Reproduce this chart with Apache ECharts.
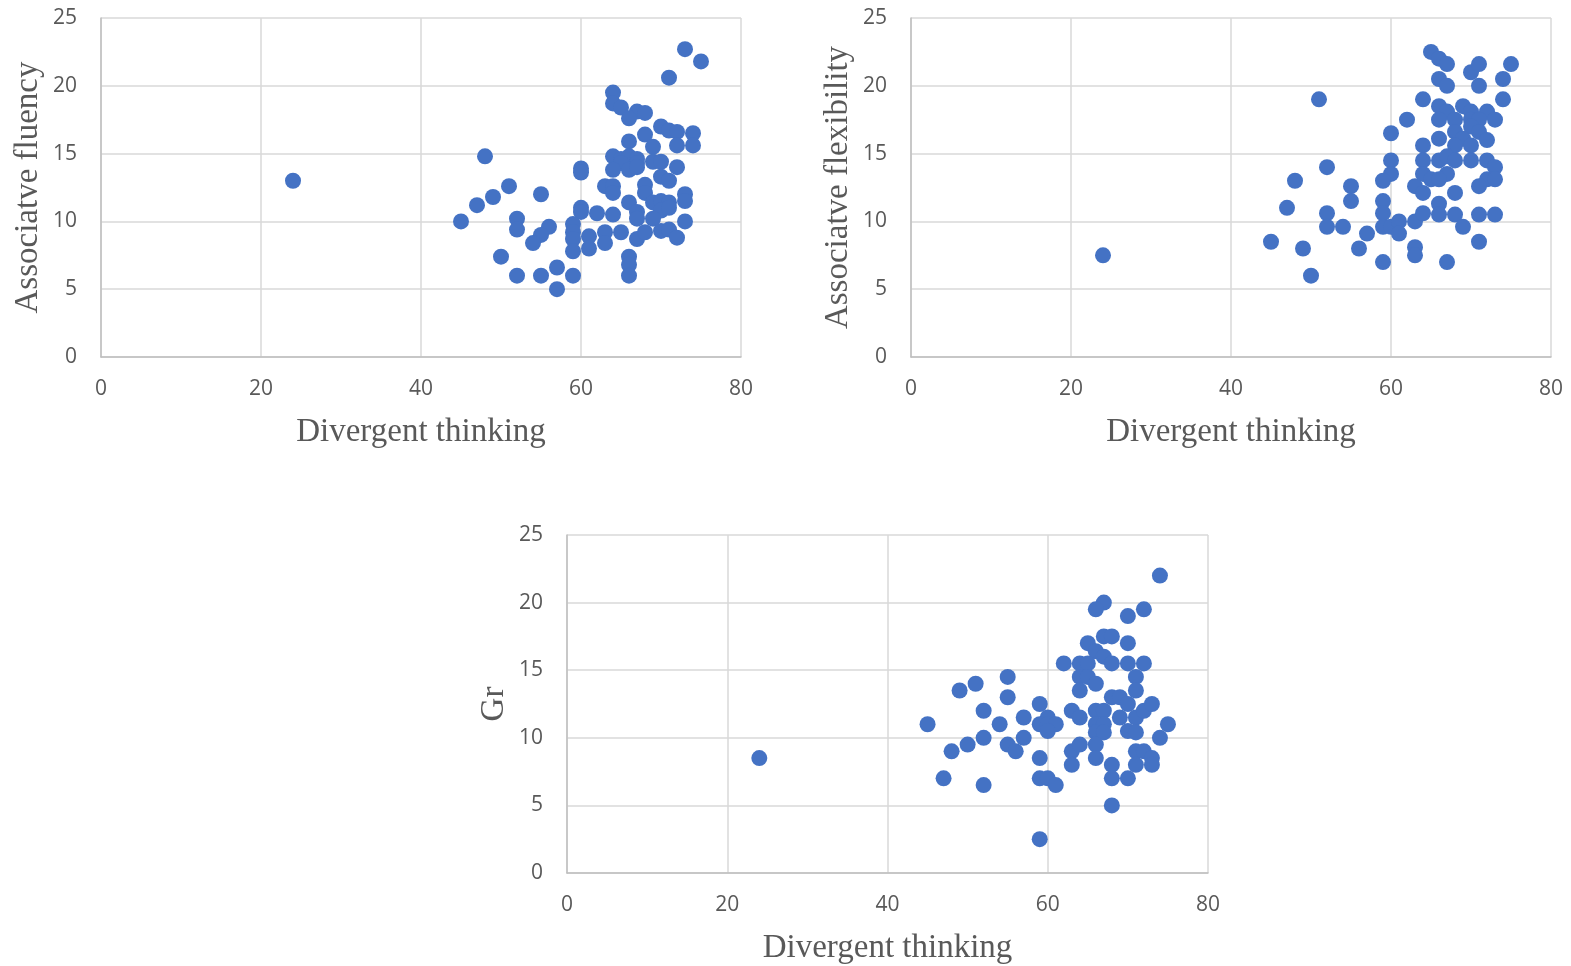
<!DOCTYPE html>
<html>
<head>
<meta charset="utf-8">
<script src="https://cdn.jsdelivr.net/npm/echarts@6/dist/echarts.min.js"></script>
<style>
  html, body { margin: 0; padding: 0; background: #fff; }
  #chart { width: 1571px; height: 966px; }
</style>
</head>
<body>
<div id="chart"></div>
<script>
// Divergent thinking score vs. each associative measure: [x, y]
const fluencyPoints = [
  [24,13],
  [73,22.7],[75,21.8],[71,20.6],[64,19.5],[64,18.7],[65,18.4],[67,18.1],[68,18.0],[66,17.6],
  [70,17.0],[71,16.7],[72,16.6],[74,16.5],[68,16.4],[72,15.6],[74,15.6],[66,15.9],[69,15.5],
  [64,14.8],[65,14.6],[66,14.8],[67,14.6],[69,14.4],[70,14.4],[65,14.3],[67,14.3],[64,13.8],
  [66,13.8],[67,14.0],[60,13.9],[60,13.6],[72,14.0],[70,13.3],[71,13.0],[63,12.6],[64,12.6],
  [64,12.1],[68,12.7],[68,12.1],[73,12.0],[73,11.5],[66,11.4],[69,11.4],[70,11.5],[71,11.4],
  [67,10.7],[70,10.8],[71,11.0],[60,11.0],[60,10.7],[62,10.6],[64,10.5],[67,10.2],[69,10.2],
  [73,10.0],[55,12.0],[51,12.6],[49,11.8],[47,11.2],[45,10.0],[48,14.8],[52,10.2],[52,9.4],
  [56,9.6],[55,9.0],[54,8.4],[59,9.8],[59,9.2],[59,8.7],[59,7.8],[61,8.9],[61,8.0],[63,9.2],
  [63,8.4],[65,9.2],[67,8.7],[68,9.2],[70,9.3],[71,9.4],[72,8.8],[50,7.4],[52,6.0],[55,6.0],
  [57,6.6],[57,5.0],[59,6.0],[66,7.4],[66,6.8],[66,6.0]
];

const flexibilityPoints = [
  [24,7.5],
  [65,22.5],[66,22.0],[67,21.6],[70,21.0],[71,21.6],[75,21.6],[74,20.5],[66,20.5],[67,20.0],
  [71,20.0],[74,19.0],[64,19.0],[51,19.0],[66,18.5],[69,18.5],[67,18.1],[70,18.1],[72,18.1],
  [66,17.5],[68,17.5],[70,17.5],[71,17.5],[73,17.5],[62,17.5],[68,16.6],[70,17.0],[71,16.6],
  [72,16.0],[66,16.1],[60,16.5],[69,16.1],[70,15.6],[68,15.6],[64,15.6],[64,14.5],[66,14.5],
  [67,14.8],[68,14.5],[70,14.5],[72,14.5],[73,14.0],[60,14.5],[60,13.5],[59,13.0],[64,13.5],
  [67,13.5],[65,13.1],[66,13.1],[63,12.6],[64,12.1],[72,13.1],[73,13.1],[71,12.6],[68,12.1],
  [52,14.0],[48,13.0],[55,12.6],[55,11.5],[59,11.5],[47,11.0],[52,10.6],[52,9.6],[54,9.6],
  [59,10.6],[59,9.6],[60,9.6],[61,10.0],[61,9.1],[63,10.0],[64,10.6],[66,11.3],[66,10.5],
  [68,10.5],[71,10.5],[73,10.5],[69,9.6],[57,9.1],[56,8.0],[49,8.0],[45,8.5],[63,8.1],
  [63,7.5],[59,7.0],[67,7.0],[71,8.5],[50,6.0]
];

const grPoints = [
  [24,8.5],
  [74,22.0],[67,20.0],[66,19.5],[72,19.5],[70,19.0],[67,17.5],[68,17.5],[65,17.0],[70,17.0],
  [66,16.4],[67,16.0],[68,15.5],[62,15.5],[64,15.5],[65,15.5],[70,15.5],[72,15.5],[64,14.5],
  [65,14.5],[66,14.0],[64,13.5],[71,14.5],[71,13.5],[68,13.0],[69,13.0],[70,12.5],[66,12.0],
  [67,12.0],[63,12.0],[64,11.5],[69,11.5],[71,11.5],[72,12.0],[73,12.5],[75,11.0],[66,11.0],
  [67,11.0],[66,10.4],[67,10.4],[70,10.5],[71,10.4],[60,11.5],[59,11.0],[60,11.0],[61,11.0],
  [60,10.5],[59,12.5],[57,11.5],[57,10.0],[55,14.5],[55,13.0],[51,14.0],[49,13.5],[52,12.0],
  [54,11.0],[45,11.0],[52,10.0],[50,9.5],[48,9.0],[55,9.5],[56,9.0],[59,8.5],[63,9.0],
  [64,9.5],[63,8.0],[66,9.5],[66,8.5],[68,8.0],[71,9.0],[72,9.0],[73,8.5],[73,8.0],[71,8.0],
  [74,10.0],[47,7.0],[52,6.5],[59,7.0],[60,7.0],[61,6.5],[68,7.0],[70,7.0],[68,5.0],[59,2.5]
];

// Axis scales and titles
const xTicks = { min: 0, max: 80, interval: 20 };
const yTicks = { min: 0, max: 25, interval: 5 };
const xTitle = 'Divergent thinking';
const yTitles = ['Associatve fluency', 'Associatve flexibility', 'Gr'];

const panels = [
  { data: fluencyPoints,     grid: { left: 101, top: 18,  width: 640, height: 339 } },
  { data: flexibilityPoints, grid: { left: 911, top: 18,  width: 640, height: 339 } },
  { data: grPoints,          grid: { left: 567, top: 535, width: 641, height: 338 } }
];

const tickColor = '#595959';
const tickFont = { color: tickColor, fontSize: 21, fontFamily: 'Open Sans' };
const titleFont = { color: tickColor, fontSize: 33, fontFamily: 'Liberation Serif' };

const option = {
  animation: false,
  grid: panels.map(p => Object.assign({ containLabel: false }, p.grid)),
  xAxis: panels.map((p, i) => ({
    type: 'value', gridIndex: i,
    min: xTicks.min, max: xTicks.max, interval: xTicks.interval,
    name: xTitle, nameLocation: 'middle', nameGap: 59,
    nameTextStyle: titleFont,
    axisLine: { show: true, lineStyle: { color: '#bfbfbf', width: 1.5 } },
    axisTick: { show: false },
    axisLabel: Object.assign({ margin: 22 }, tickFont),
    splitLine: { show: true, lineStyle: { color: '#d9d9d9', width: 1.5 } }
  })),
  yAxis: panels.map((p, i) => ({
    type: 'value', gridIndex: i,
    min: yTicks.min, max: yTicks.max, interval: yTicks.interval,
    name: yTitles[i], nameLocation: 'middle', nameGap: 56,
    nameTextStyle: titleFont,
    axisLine: { show: true, lineStyle: { color: '#bfbfbf', width: 1.5 } },
    axisTick: { show: false },
    axisLabel: Object.assign({ margin: 24 }, tickFont),
    splitLine: { show: true, lineStyle: { color: '#d9d9d9', width: 1.5 } }
  })),
  series: panels.map((p, i) => ({
    type: 'scatter', xAxisIndex: i, yAxisIndex: i,
    data: p.data, symbol: 'circle', symbolSize: 16,
    itemStyle: { color: '#4472C4', opacity: 1 }
  }))
};

echarts.init(document.getElementById('chart'), null, { renderer: 'canvas' }).setOption(option);
</script>
</body>
</html>
